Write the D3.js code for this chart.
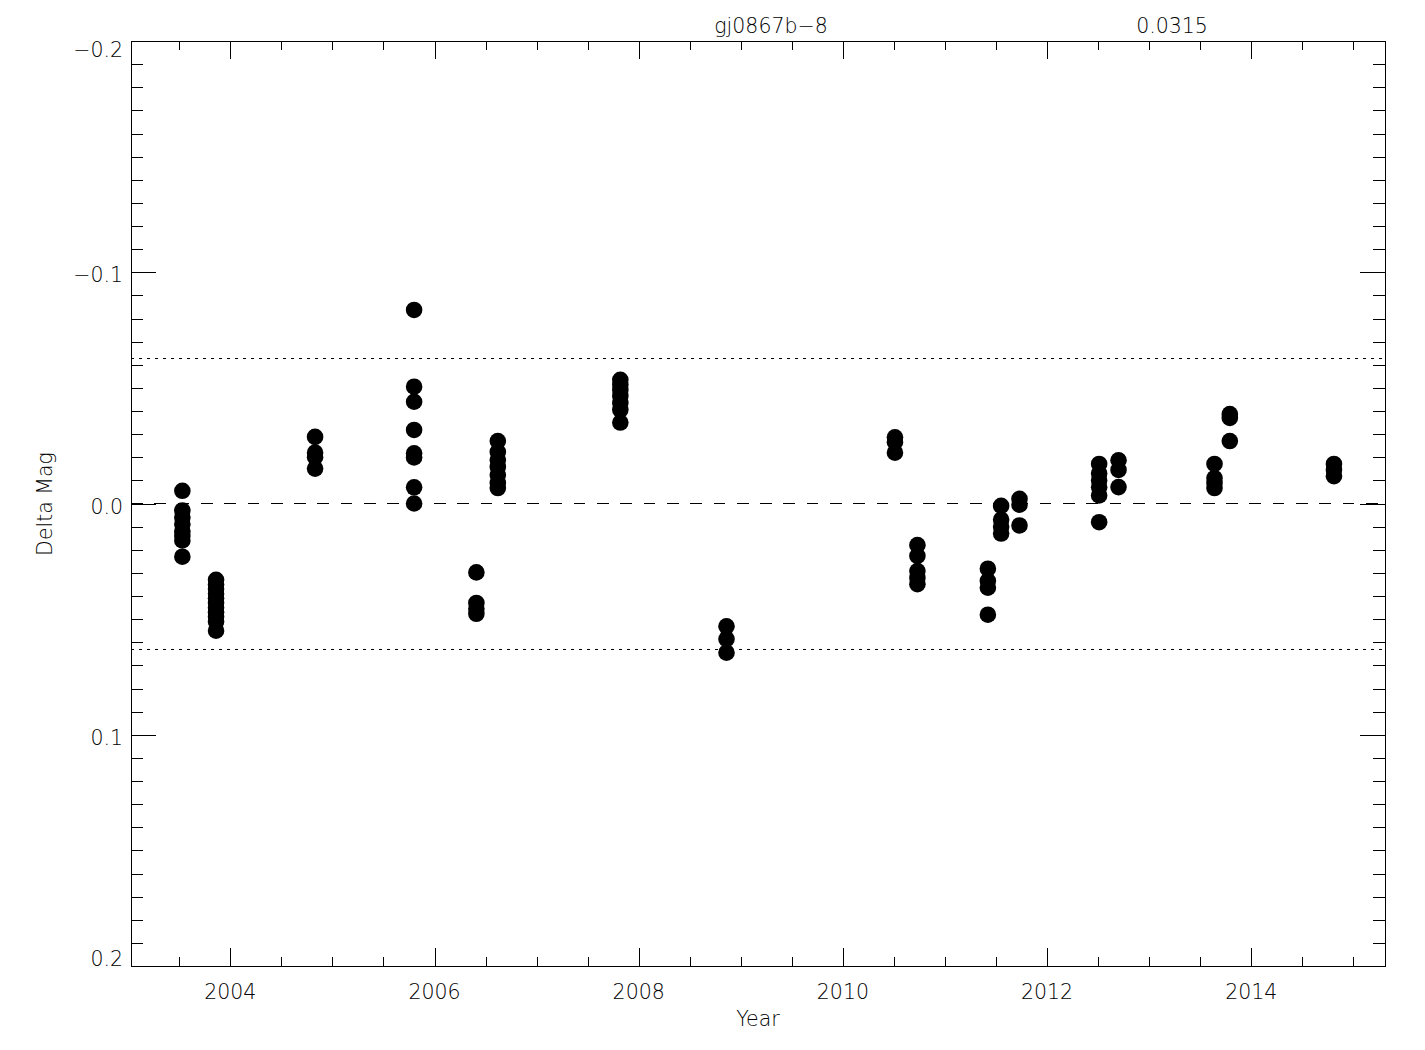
<!DOCTYPE html>
<html>
<head>
<meta charset="utf-8">
<script src="https://cdn.jsdelivr.net/npm/d3@7"></script>
<style>
  body { margin: 0; background: #fff; }
  text { font-family: "DejaVu Sans", sans-serif; font-weight: 200; fill: #000; }
</style>
</head>
<body>
<svg id="chart" width="1425" height="1050"></svg>
<script>
// Observation epochs (decimal year) and the delta-mag values measured at each
const epochs = [2003.53, 2003.86, 2004.83, 2005.80, 2006.41, 2006.62, 2007.82, 2008.86,
                2010.51, 2010.73, 2011.42, 2011.55, 2011.73, 2012.51, 2012.70, 2013.64,
                2013.79, 2014.81];
const deltaMag = [
    [-0.0055, 0.003, 0.006, 0.009, 0.012, 0.014, 0.016, 0.023],
    [0.033, 0.035, 0.037, 0.039, 0.041, 0.043, 0.045, 0.047, 0.049, 0.051, 0.055],
    [-0.0288, -0.022, -0.020, -0.0151],
    [-0.0837, -0.0505, -0.044, -0.0318, -0.0217, -0.0199, -0.007, 0.000],
    [0.0298, 0.043, 0.0455, 0.0477],
    [-0.027, -0.0223, -0.0188, -0.0158, -0.0123, -0.0089, -0.0067],
    [-0.0535, -0.0513, -0.0491, -0.0465, -0.0435, -0.0405, -0.035],
    [0.0531, 0.0586, 0.0645],
    [-0.0286, -0.0265, -0.022],
    [0.018, 0.0227, 0.0292, 0.0322, 0.0349],
    [0.0282, 0.0335, 0.0364, 0.0481],
    [0.001, 0.007, 0.010, 0.013],
    [-0.002, 0.0005, 0.0095],
    [-0.0171, -0.013, -0.010, -0.007, -0.0035, 0.0081],
    [-0.0187, -0.0145, -0.0071],
    [-0.0171, -0.011, -0.0089, -0.0067],
    [-0.0387, -0.037, -0.027],
    [-0.0171, -0.0145, -0.0118]
];
const starName = "gj0867b\u22128";
const rmsValue = "0.0315";
const yearTicks = [2004, 2006, 2008, 2010, 2012, 2014];
const magTicks = [-0.2, -0.1, 0.0, 0.1, 0.2];
const magLabels = ["\u22120.2", "\u22120.1", "0.0", "0.1", "0.2"];
const limitLines = [-0.063, 0.063];

const svg = d3.select("#chart");
const plotLeft = 131, plotRight = 1385, plotTop = 41, plotBottom = 966;

const x = d3.scaleLinear().domain([2003.027, 2015.31]).range([plotLeft, plotRight]);
const y = d3.scaleLinear().domain([-0.2, 0.2]).range([plotTop, plotBottom]);

// flatten to points
const points = [];
epochs.forEach((t, i) => {
    deltaMag[i].forEach(m => points.push({ t: t, m: m }));
});

// minor tick values
const yearMinor = d3.range(2003.5, 2015.31, 0.5).filter(v => v % 2 !== 0);
const magMinor = d3.range(-20, 21).filter(v => v % 10 !== 0).map(v => v / 100);

function drawAxis(axisFn, scale, values, size, transform) {
    const g = svg.append("g")
        .attr("transform", transform)
        .call(axisFn(scale).tickValues(values).tickSize(size).tickSizeOuter(0).tickFormat(""));
    g.selectAll("path, line").attr("stroke", "#000").attr("shape-rendering", "crispEdges");
    return g;
}

// bottom / top axes
drawAxis(d3.axisBottom, x, yearTicks, -18, `translate(0,${plotBottom})`);
drawAxis(d3.axisBottom, x, yearMinor, -9, `translate(0,${plotBottom})`);
drawAxis(d3.axisTop, x, yearTicks, -18, `translate(0,${plotTop})`);
drawAxis(d3.axisTop, x, yearMinor, -9, `translate(0,${plotTop})`);
// left / right axes
drawAxis(d3.axisLeft, y, magTicks, -25, `translate(${plotLeft},0)`);
drawAxis(d3.axisLeft, y, magMinor, -12, `translate(${plotLeft},0)`);
drawAxis(d3.axisRight, y, magTicks, -25, `translate(${plotRight},0)`);
drawAxis(d3.axisRight, y, magMinor, -12, `translate(${plotRight},0)`);

// tick labels
svg.append("g").selectAll("text")
    .data(yearTicks)
    .enter().append("text")
    .attr("x", d => x(d))
    .attr("y", 998.5)
    .attr("text-anchor", "middle")
    .style("font-size", "20.5px")
    .text(d => d);

svg.append("g").selectAll("text")
    .data(magTicks)
    .enter().append("text")
    .attr("x", 123)
    .attr("y", d => Math.min(Math.max(y(d) + 10, 57), 966))
    .attr("text-anchor", "end")
    .style("font-size", "20.5px")
    .text((d, i) => magLabels[i]);

// reference lines
svg.append("line")
    .attr("x1", plotLeft).attr("x2", plotRight)
    .attr("y1", y(0)).attr("y2", y(0))
    .attr("stroke", "#000")
    .attr("stroke-dasharray", "11.7,11.6")
    .attr("shape-rendering", "crispEdges");

svg.append("g").selectAll("line")
    .data(limitLines)
    .enter().append("line")
    .attr("x1", plotLeft).attr("x2", plotRight)
    .attr("y1", d => Math.round(y(d)) + 0.5).attr("y2", d => Math.round(y(d)) + 0.5)
    .attr("stroke", "#000")
    .attr("stroke-dasharray", "3,5");

// data points
svg.append("g").selectAll("circle")
    .data(points)
    .enter().append("circle")
    .attr("cx", d => x(d.t))
    .attr("cy", d => y(d.m))
    .attr("r", 8.3)
    .attr("fill", "#000");

// titles
svg.append("text")
    .attr("x", 771).attr("y", 32.5)
    .attr("text-anchor", "middle")
    .style("font-size", "20.5px")
    .text(starName);

svg.append("text")
    .attr("x", 1172).attr("y", 32.5)
    .attr("text-anchor", "middle")
    .style("font-size", "20.5px")
    .text(rmsValue);

svg.append("text")
    .attr("x", (plotLeft + plotRight) / 2).attr("y", 1026)
    .attr("text-anchor", "middle")
    .style("font-size", "20.5px")
    .text("Year");

svg.append("text")
    .attr("transform", "translate(52,504) rotate(-90)")
    .attr("text-anchor", "middle")
    .style("font-size", "20.5px")
    .text("Delta Mag");
</script>
</body>
</html>
